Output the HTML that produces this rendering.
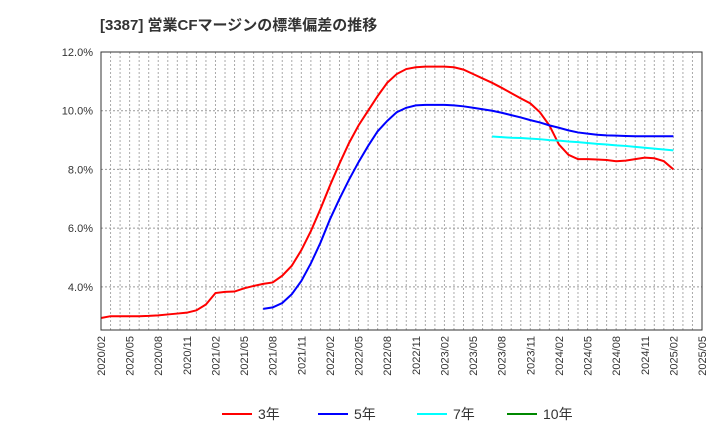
<!DOCTYPE html>
<html><head><meta charset="utf-8"><style>
body{margin:0;background:#fff;font-family:"Liberation Sans","Noto Sans CJK JP",sans-serif}
</style></head><body>
<svg width="720" height="440" xmlns="http://www.w3.org/2000/svg" id="chart" font-family="Liberation Sans, Noto Sans CJK JP, sans-serif">
<text x="100" y="30" font-size="15" font-weight="bold" fill="#333">[3387]  営業CFマージンの標準偏差の推移</text>
<g id="grid"></g><g id="series"></g><g id="axes"></g><g id="legend"></g>
</svg>
<script>
const yTicks=[4,6,8,10,12];
const yTickLabels=["4.0%","6.0%","8.0%","10.0%","12.0%"];
const xTickLabels=["2020/02","2020/05","2020/08","2020/11","2021/02","2021/05","2021/08","2021/11","2022/02","2022/05","2022/08","2022/11","2023/02","2023/05","2023/08","2023/11","2024/02","2024/05","2024/08","2024/11","2025/02","2025/05"];
const s3=[2.94,3.0,3.0,3.0,3.0,3.01,3.03,3.06,3.09,3.12,3.2,
3.4,3.79,3.83,3.84,3.95,4.03,4.1,4.15,4.38,4.72,5.25,5.9,
6.65,7.45,8.2,8.9,9.5,10.0,10.5,10.95,11.25,11.42,11.48,11.5,
11.5,11.5,11.48,11.4,11.25,11.1,10.95,10.78,10.6,10.42,10.25,9.95,
9.5,8.85,8.5,8.35,8.35,8.34,8.32,8.28,8.3,8.35,8.4,8.38,
8.28,8.0];
const s3Start=0;
const s5=[3.25,3.3,3.45,3.75,4.2,4.8,5.5,6.3,7.0,7.65,8.25,8.8,9.3,9.65,9.95,10.1,10.18,10.2,10.2,10.2,10.18,10.15,10.1,10.05,10.0,9.93,9.85,9.77,9.68,9.6,9.5,9.42,9.33,9.26,9.22,9.18,9.16,9.15,9.14,9.13,9.13,9.13,9.13,9.13];
const s5Start=17;
const s7=[9.12,9.1,9.08,9.07,9.05,9.03,9.0,8.98,8.95,8.93,8.9,8.87,8.85,8.82,8.8,8.77,8.74,8.71,8.68,8.65];
const s7Start=41;
const s10=[];
const s10Start=0;
const X0=101,X1=702,Y0=52,Y1=330,NM=63,YMIN=2.53,YMAX=12;
const xs=m=>X0+(X1-X0)*m/NM;
const ys=v=>Y1-(Y1-Y0)*(v-YMIN)/(YMAX-YMIN);
const NS="http://www.w3.org/2000/svg";
function mk(t,a,p){const e=document.createElementNS(NS,t);for(const k in a)e.setAttribute(k,a[k]);p.appendChild(e);return e;}
const grid=document.getElementById('grid'),ser=document.getElementById('series'),ax=document.getElementById('axes'),lg=document.getElementById('legend');
for(let m=1;m<NM;m++){const l=mk('line',{x1:xs(m),x2:xs(m),y1:Y0,y2:Y1,stroke:'#aaa','stroke-width':1,'stroke-dasharray':'2,2'},grid);

}
yTicks.forEach((v,i)=>{const l=mk('line',{x1:X0,x2:X1,y1:ys(v),y2:ys(v),stroke:'#999','stroke-width':1,'stroke-dasharray':'2,2'},grid);


const t=mk('text',{x:93,y:ys(v)+4,'text-anchor':'end','font-size':11,fill:'#333'},ax);t.textContent=yTickLabels[i];

});
xTickLabels.forEach((s,i)=>{const x=xs(i*3);const t=mk('text',{x:0,y:0,transform:`translate(${x+4},336) rotate(-90)`,'text-anchor':'end','font-size':11,fill:'#333'},ax);t.textContent=s;

});
const fr=mk('rect',{x:X0,y:Y0,width:X1-X0,height:Y1-Y0,fill:'none',stroke:'#333','stroke-width':1},ax);


function line(arr,start,col,name){if(!arr.length)return;const p=mk('polyline',{points:arr.map((v,i)=>xs(start+i)+','+ys(v)).join(' '),fill:'none',stroke:col,'stroke-width':2},ser);

}
line(s3,s3Start,'#f00','line-3y');
line(s5,s5Start,'#00f','line-5y');
line(s7,s7Start,'#0ff','line-7y');
line(s10,s10Start,'#080','line-10y');
const leg=[['3年','#f00',222],['5年','#00f',318],['7年','#0ff',417],['10年','#080',507]];
leg.forEach(([n,c,x])=>{const g=mk('g',{},lg);


mk('line',{x1:x,x2:x+30,y1:414,y2:414,stroke:c,'stroke-width':2},g);
const t=mk('text',{x:x+36,y:419,'font-size':14,fill:'#333'},g);t.textContent=n;});
</script>
</body></html>
